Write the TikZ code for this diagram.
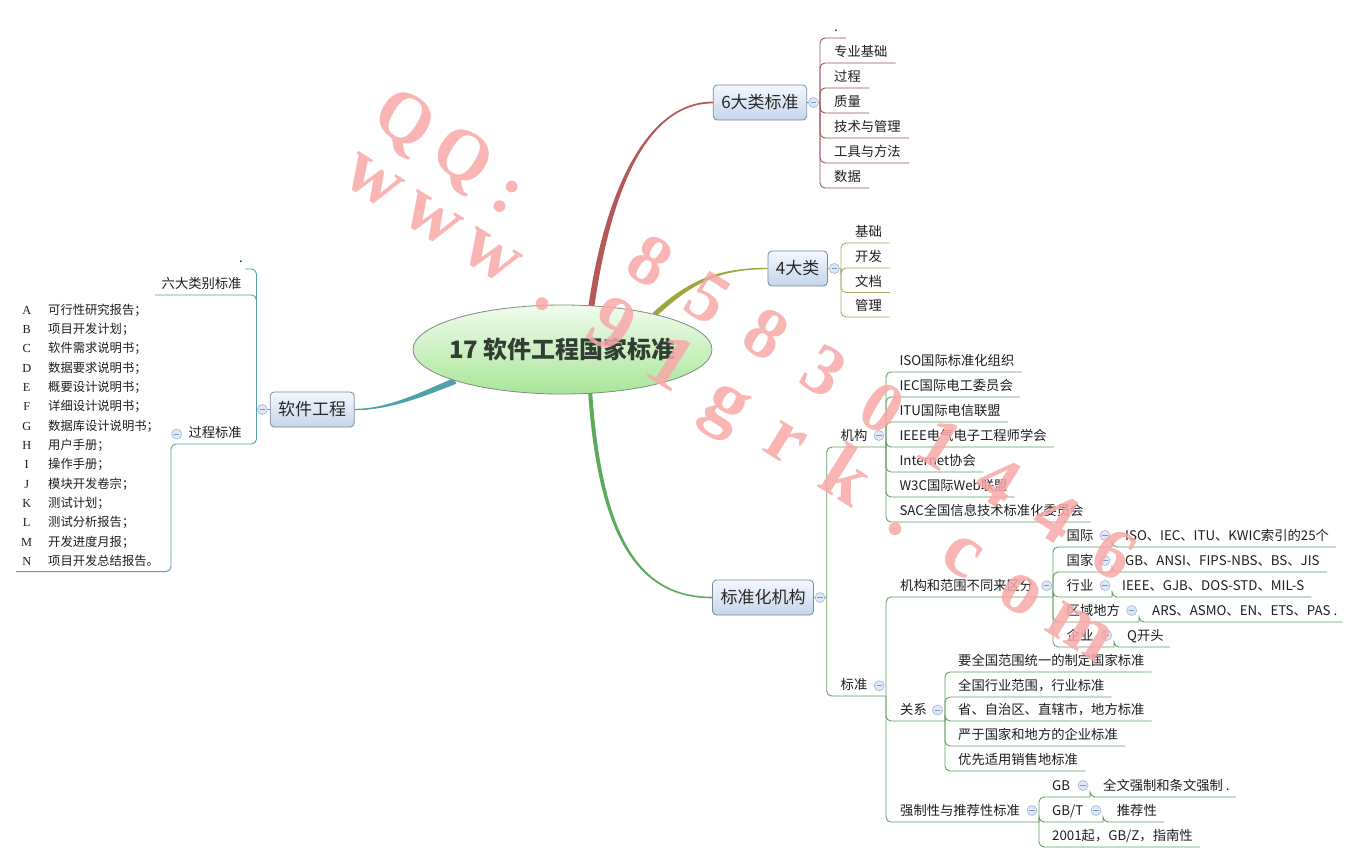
\documentclass[tikz,border=0pt]{standalone}
\usepackage{fontspec}
\usepackage{array}
\setmainfont{Noto Sans CJK SC}
\newfontfamily\serifl{Liberation Serif}
\usetikzlibrary{shapes.geometric,calc}
\definecolor{lred}{RGB}{160,82,86}
\definecolor{cred}{RGB}{180,88,88}
\definecolor{lolive}{RGB}{176,166,100}
\definecolor{colive}{RGB}{160,165,62}
\definecolor{lteal}{RGB}{84,160,166}
\definecolor{cteal}{RGB}{78,160,170}
\definecolor{lgreen}{RGB}{98,158,98}
\definecolor{cgreen}{RGB}{92,170,92}
\definecolor{boxtop}{RGB}{244,248,253}
\definecolor{boxbot}{RGB}{197,213,236}
\definecolor{boxline}{RGB}{122,138,156}
\definecolor{txt}{RGB}{30,30,30}
\definecolor{maintxt}{RGB}{40,40,40}
\definecolor{ctxt}{RGB}{50,62,50}
\definecolor{wmc}{RGB}{248,168,168}
\definecolor{ctop}{RGB}{240,252,236}
\definecolor{cbot}{RGB}{168,230,152}
\definecolor{ellline}{RGB}{128,140,128}
\definecolor{colline}{RGB}{160,180,215}
\definecolor{colfill}{RGB}{222,232,246}
\definecolor{colminus}{RGB}{120,150,200}
\tikzset{
  leaf/.style={anchor=base west, inner sep=0pt, font=\fontsize{13.3}{15}\selectfont, text=txt},
  mainbox/.style={draw=boxline, line width=0.8pt, rounded corners=4pt, top color=boxtop, bottom color=boxbot, minimum height=35pt, inner xsep=8pt, inner ysep=0pt, font=\fontsize{17}{20}\selectfont, text=maintxt},
  collapse/.style={circle, draw=colline, fill=colfill, line width=0.6pt, minimum size=10pt, inner sep=0pt,
    path picture={\draw[colminus, line width=0.8pt] ([xshift=-2.6pt]path picture bounding box.center) -- ([xshift=2.6pt]path picture bounding box.center);}},
  br/.style={rounded corners=5pt, line width=0.9pt},
  wm/.style={anchor=base, inner sep=0pt, font=\serifl\bfseries\fontsize{72}{76}\selectfont, text=wmc, rotate=-32, text opacity=0.85},
  wmb/.style={wm, font=\serifl\bfseries\fontsize{78}{82}\selectfont},
}
\begin{document}
\begin{tikzpicture}[x=1pt,y=-1pt]
\fill[white] (0,0) rectangle (1372,862);
\useasboundingbox (0,0) rectangle (1372,862);

% ================= 6大类标准
\node[mainbox] (b6) at (760,102.5) {6大类标准};
\coordinate (p6) at (820,102.5);
\node[leaf] (a0) at (834,31.7) {.};
\node[leaf] (a1) at (834,56.7) {专业基础};
\node[leaf] (a2) at (834,81.7) {过程};
\node[leaf] (a3) at (834,106.7) {质量};
\node[leaf] (a4) at (834,131.7) {技术与管理};
\node[leaf] (a5) at (834,156.7) {工具与方法};
\node[leaf] (a6) at (834,181.7) {数据};
\draw[lred, line width=0.9pt] (b6.east) -- (p6);
\foreach \n in {a0,a1,a2,a3,a4,a5,a6}
  \draw[lred, br] (p6) |- ([shift={(8,6.3)}]\n.base east);
\node[collapse] (k6) at (813.5,102.5) {};

% ================= 4大类
\node[mainbox] (b4) at (797.7,268.5) {4大类};
\coordinate (p4) at (841,268.5);
\node[leaf] (e1) at (855,236.7) {基础};
\node[leaf] (e2) at (855,261.7) {开发};
\node[leaf] (e3) at (855,286.2) {文档};
\node[leaf] (e4) at (855,310.7) {管理};
\draw[lolive, line width=0.9pt] (b4.east) -- (p4);
\foreach \n in {e1,e2,e3,e4}
  \draw[lolive, br] (p4) |- ([shift={(8,6.3)}]\n.base east);
\node[collapse] (k4) at (834.3,268.5) {};

% ================= 软件工程
\node[mainbox] (bs) at (312.2,409.5) {软件工程};
\coordinate (ps) at (256.5,409.5);
\node[leaf] (d0) at (239,262.7) {.};
\node[leaf] (d1) at (161.5,288.7) {六大类别标准};
\node[leaf] (d2) at (188.3,437.7) {过程标准};
\coordinate (pg) at (171,444);
\node[anchor=base west, inner sep=0pt, text=txt] (lst) at (20.5,314) {\fontsize{12.3}{19.35}\selectfont
\begin{tabular}[t]{@{}>{\centering\serifl}p{12pt}@{\hspace{15.5pt}}l@{}}
A & 可行性研究报告；\\
B & 项目开发计划；\\
C & 软件需求说明书；\\
D & 数据要求说明书；\\
E & 概要设计说明书；\\
F & 详细设计说明书；\\
G & 数据库设计说明书；\\
H & 用户手册；\\
I & 操作手册；\\
J & 模块开发卷宗；\\
K & 测试计划；\\
L & 测试分析报告；\\
M & 开发进度月报；\\
N & 项目开发总结报告。
\end{tabular}};
\draw[lteal, line width=0.9pt] (bs.west) -- (ps);
\draw[lteal, br] (ps) |- ([shift={(6,6.3)}]d0.base west);
\draw[lteal, br] (ps) |- ([shift={(-6.5,6.3)}]d1.base west);
\draw[lteal, br] (ps) |- (pg) |- ([xshift=-4.5pt]lst.south west);
\node[collapse] (ks) at (262.3,409.5) {};
\node[collapse] (kg) at (176.7,434) {};

% ================= 标准化机构
\node[mainbox] (bb) at (763,597.5) {标准化机构};
\coordinate (pb) at (826.7,597.5);
\node[leaf] (jg) at (840.5,440.7) {机构};
\node[leaf] (bz) at (840.5,689.7) {标准};
\coordinate (pjg) at (886,447);
\coordinate (pbz) at (886,696);
\draw[lgreen, line width=0.9pt] (bb.east) -- (pb);
\draw[lgreen, br] (pb) |- (pjg);
\draw[lgreen, br] (pb) |- (pbz);
\node[collapse] (kb) at (820,597.5) {};
\node[collapse] (kjg) at (879,435.5) {};
\node[collapse] (kbz) at (879.3,685.7) {};

% 机构
\node[leaf] (j1) at (899.3,365.7) {ISO国际标准化组织};
\node[leaf] (j2) at (899.3,390.7) {IEC国际电工委员会};
\node[leaf] (j3) at (899.3,415.7) {ITU国际电信联盟};
\node[leaf] (j4) at (899.3,440.7) {IEEE电气电子工程师学会};
\node[leaf] (j5) at (899.3,465.7) {Internet协会};
\node[leaf] (j6) at (899.3,490.7) {W3C国际Web联盟};
\node[leaf] (j7) at (899.3,515.7) {SAC全国信息技术标准化委员会};
\foreach \n in {j1,j2,j3,j4,j5,j6,j7}
  \draw[lgreen, br] (pjg) |- ([shift={(7,6.3)}]\n.base east);

% 标准
\node[leaf] (f0) at (900,590.7) {机构和范围不同来区分};
\node[leaf] (g0) at (900,714.7) {关系};
\node[leaf] (q0) at (900,815.7) {强制性与推荐性标准};
\coordinate (pfw) at (1053,597);
\coordinate (pgx) at (945,721);
\coordinate (pqz) at (1039,822);
\draw[lgreen, br] (pbz) |- (pfw);
\draw[lgreen, br] (pbz) |- (pgx);
\draw[lgreen, br] (pbz) |- (pqz);
\node[collapse] (kf0) at (1046.7,585.7) {};
\node[collapse] (kg0) at (937.5,710) {};
\node[collapse] (kq0) at (1032,810.5) {};

% 机构和范围不同来区分
\node[leaf] (f1) at (1066.5,540.7) {国际};
\node[leaf] (f2) at (1066.5,565.7) {国家};
\node[leaf] (f3) at (1066.5,590.7) {行业};
\node[leaf] (f4) at (1066.5,615.7) {区域地方};
\node[leaf] (f5) at (1066.5,640.7) {企业};
\coordinate (pf1) at (1112,547);
\coordinate (pf2) at (1112,572);
\coordinate (pf3) at (1112,597);
\coordinate (pf4) at (1139,622);
\coordinate (pf5) at (1114,647);
\foreach \n in {pf1,pf2,pf3,pf4,pf5}
  \draw[lgreen, br] (pfw) |- (\n);
\node[leaf] (h1) at (1125,540.7) {ISO、IEC、ITU、KWIC索引的25个};
\node[leaf] (h2) at (1125,565.7) {GB、ANSI、FIPS-NBS、BS、JIS};
\node[leaf] (h3) at (1122,590.7) {IEEE、GJB、DOS-STD、MIL-S};
\node[leaf] (h4) at (1152,615.7) {ARS、ASMO、EN、ETS、PAS .};
\node[leaf] (h5) at (1127,640.7) {Q开头};
\draw[lgreen, br] (pf1) |- ([shift={(7,6.3)}]h1.base east);
\draw[lgreen, br] (pf2) |- ([shift={(7,6.3)}]h2.base east);
\draw[lgreen, br] (pf3) |- ([shift={(7,6.3)}]h3.base east);
\draw[lgreen, br] (pf4) |- ([shift={(5,6.3)}]h4.base east);
\draw[lgreen, br] (pf5) |- ([shift={(6,6.3)}]h5.base east);
\node[collapse] (kf1) at (1105,535.5) {};
\node[collapse] (kf2) at (1105,560.5) {};
\node[collapse] (kf3) at (1105,585.5) {};
\node[collapse] (kf4) at (1131.7,610.5) {};
\node[collapse] (kf5) at (1106.7,635.5) {};

% 关系
\node[leaf] (g1) at (958,665.7) {要全国范围统一的制定国家标准};
\node[leaf] (g2) at (958,690.7) {全国行业范围，行业标准};
\node[leaf] (g3) at (958,714.7) {省、自治区、直辖市，地方标准};
\node[leaf] (g4) at (958,739.7) {严于国家和地方的企业标准};
\node[leaf] (g5) at (958,764.7) {优先适用销售地标准};
\foreach \n in {g1,g2,g3,g4,g5}
  \draw[lgreen, br] (pgx) |- ([shift={(7,6.3)}]\n.base east);

% 强制性与推荐性标准
\node[leaf] (q1) at (1052,790.7) {GB};
\node[leaf] (q2) at (1052,815.7) {GB/T};
\node[leaf] (q3) at (1052,840.7) {2001起，GB/Z，指南性};
\coordinate (pq1) at (1090,797);
\coordinate (pq2) at (1103,822);
\draw[lgreen, br] (pqz) |- (pq1);
\draw[lgreen, br] (pqz) |- (pq2);
\draw[lgreen, br] (pqz) |- ([shift={(7,6.3)}]q3.base east);
\node[leaf] (r1) at (1103,790.7) {全文强制和条文强制 .};
\node[leaf] (r2) at (1116.7,815.7) {推荐性};
\draw[lgreen, br] (pq1) |- ([shift={(6,6.3)}]r1.base east);
\draw[lgreen, br] (pq2) |- ([shift={(7,6.3)}]r2.base east);
\node[collapse] (kq1) at (1083,785.5) {};
\node[collapse] (kq2) at (1096,810.5) {};

% ================= main tapered connectors
\fill[cred] (588,309) .. controls (604,195) and (645,101.6) .. ([yshift=0.9pt]b6.west)
  -- ([yshift=-0.9pt]b6.west) .. controls (645,103.4) and (610,195) .. (594,309) -- cycle;
\fill[colive] (652.4,313.1) .. controls (686.4,282.1) and (715,267.8) .. ([yshift=0.7pt]b4.west)
  -- ([yshift=-0.7pt]b4.west) .. controls (715,269.2) and (689.6,285.9) .. (655.6,316.9) -- cycle;
\fill[cteal] (453.6,378.4) .. controls (423.6,390.4) and (390,408.8) .. ([yshift=0.7pt]bs.east)
  -- ([yshift=-0.7pt]bs.east) .. controls (390,410.2) and (426.4,395.6) .. (456.4,383.6) -- cycle;
\fill[cgreen] (588,390) .. controls (598,541) and (640,598.3) .. ([yshift=-0.8pt]bb.west)
  -- ([yshift=0.8pt]bb.west) .. controls (640,596.7) and (602,539) .. (592,390) -- cycle;

% ================= central topic
\node[ellipse, draw=ellline, line width=0.8pt, top color=ctop, bottom color=cbot,
  minimum width=299pt, minimum height=89pt, inner sep=0pt] (ctr) at (562.5,349.5) {};
\node[font=\bfseries\fontsize{24}{28}\selectfont, text=ctxt, inner sep=0pt] (ctt) at (ctr.center) {17 软件工程国家标准};

% ================= watermark
\foreach \ch/\x/\y [count=\i] in {Q/405/119, Q/463/156, :/510/192, 8/650/262, 5/708/299, 8/766/335, 3/824/372, 0/882/409, 1/940/445, 4/998/482, 4/1056/518, 6/1114/555}
  \node[wm] (wq\i) at (\x-12,\y+19) {\ch};
\foreach \ch/\x/\y [count=\i] in {w/375/177, w/434/215, w/493/252, ./552/290, 9/611/327, 1/670/365, g/729/403, r/787/440, k/846/478, ./905/515, c/964/553, o/1023/591, m/1082/628}
  \node[wmb] (ww\i) at (\x-12,\y+19) {\ch};
\end{tikzpicture}
\end{document}
